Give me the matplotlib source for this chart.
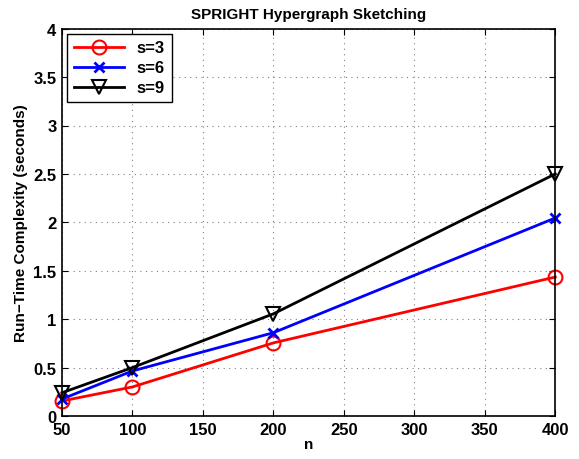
import matplotlib
matplotlib.use("Agg")
import matplotlib.pyplot as plt

plt.rcParams['font.family'] = ['Liberation Sans', 'DejaVu Sans']
plt.rcParams['font.weight'] = 'bold'

n = [50, 100, 200, 400]
s3 = [0.155, 0.30, 0.755, 1.435]
s6 = [0.175, 0.465, 0.86, 2.045]
s9 = [0.24, 0.50, 1.055, 2.50]

fig = plt.figure(figsize=(5.79, 4.60), dpi=100)
ax = fig.add_axes([0.107, 0.0935, 0.852, 0.842])

ax.plot(n, s3, color='red', marker='o', markersize=10, markerfacecolor='none',
        markeredgewidth=1.5, linewidth=2, label='s=3', clip_on=False)
ax.plot(n, s6, color='blue', marker='x', markersize=7, markeredgewidth=2,
        linewidth=2, label='s=6', clip_on=False)
ax.plot(n, s9, color='black', marker='v', markersize=10, markerfacecolor='none',
        markeredgewidth=1.5, linewidth=2, label='s=9', clip_on=False)

ax.set_xlim(50, 400)
ax.set_ylim(0, 4)
ax.set_xticks([50, 100, 150, 200, 250, 300, 350, 400])
ax.set_yticks([0, 0.5, 1, 1.5, 2, 2.5, 3, 3.5, 4])
ax.set_yticklabels(['0', '0.5', '1', '1.5', '2', '2.5', '3', '3.5', '4'])
ax.tick_params(direction='in', labelsize=12, top=True, right=True, length=4, pad=4)
ax.grid(True, linestyle=(0, (1, 4)), color='gray', linewidth=0.8)
for sp in ax.spines.values():
    sp.set_linewidth(1.2)

ax.set_xlabel('n', fontsize=11, fontweight='bold', labelpad=0)
ax.set_ylabel('Run\u2212Time Complexity (seconds)', fontsize=11, fontweight='bold')
ax.set_title('SPRIGHT Hypergraph Sketching', fontsize=11, fontweight='bold', pad=8)

leg = ax.legend(loc='upper left', fontsize=12, fancybox=False, edgecolor='black',
                framealpha=1, handlelength=3, borderaxespad=0.3, labelspacing=0.3)
leg.get_frame().set_linewidth(1.0)

fig.savefig('out.png', dpi=100)
